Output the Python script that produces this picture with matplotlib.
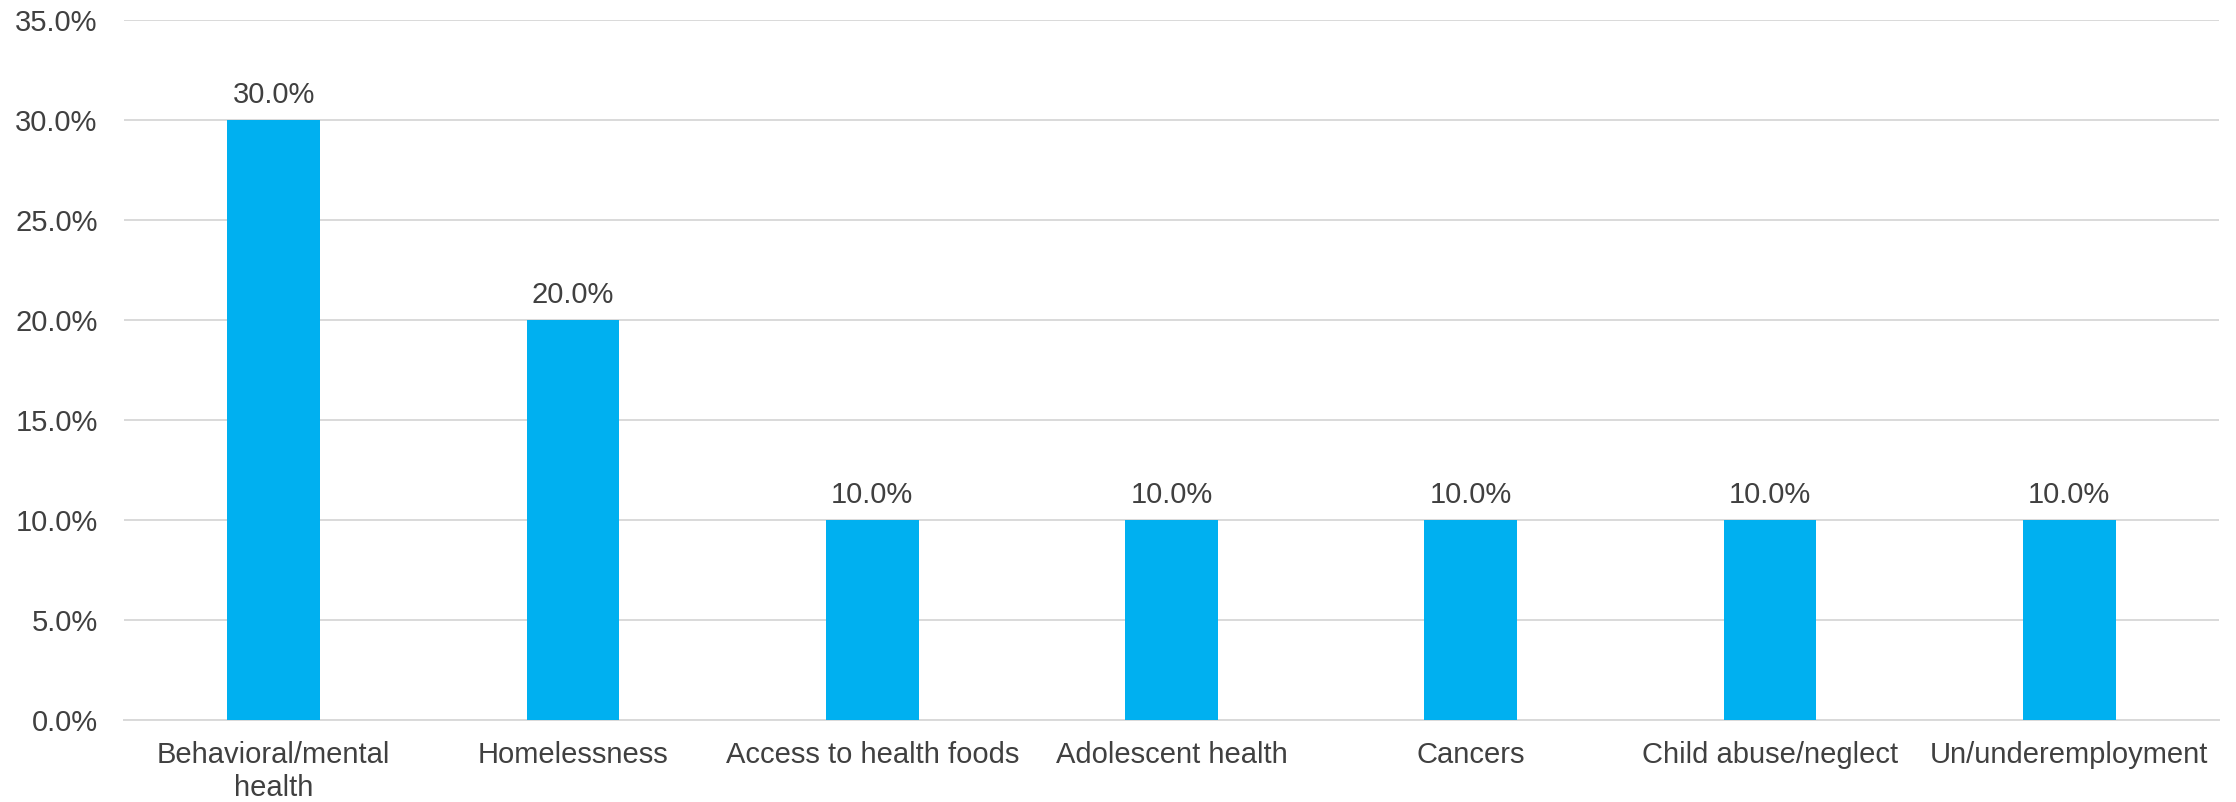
import numpy as np
import matplotlib
matplotlib.use("Agg")
import matplotlib.pyplot as plt
from matplotlib.ticker import FuncFormatter

categories = ["Behavioral/mental\nhealth", "Homelessness", "Access to health foods",
              "Adolescent health", "Cancers", "Child abuse/neglect", "Un/underemployment"]
values = [30.0, 20.0, 10.0, 10.0, 10.0, 10.0, 10.0]
y_ticks = [0, 5, 10, 15, 20, 25, 30, 35]

plt.rcParams['font.family'] = ['Liberation Sans', 'DejaVu Sans']

text_color = '#404040'
grid_color = '#D9D9D9'
bar_color = '#00B0F0'
fsize = 21

fig = plt.figure(figsize=(22.36, 8.02), dpi=100)
ax = fig.add_axes([0.0555, 0.1022, 0.9369, 0.8729])

x = np.arange(len(categories))
bars = ax.bar(x, values, width=0.31, color=bar_color, zorder=3)

ax.set_xlim(-0.5, len(categories) - 0.5)
ax.set_ylim(0, 35)
ax.set_yticks(y_ticks)
ax.yaxis.set_major_formatter(FuncFormatter(lambda v, p: '%.1f%%' % v))
ax.set_xticks(x)
ax.set_xticklabels(categories, linespacing=1.25)

ax.grid(axis='y', color=grid_color, linewidth=1.4, zorder=0)
for s in ['top', 'right', 'left']:
    ax.spines[s].set_visible(False)
ax.spines['bottom'].set_color(grid_color)
ax.spines['bottom'].set_linewidth(1.4)

ax.tick_params(axis='y', length=0, pad=19, labelsize=fsize, labelcolor=text_color)
ax.tick_params(axis='x', length=0, pad=15, labelsize=fsize, labelcolor=text_color)

ax.bar_label(bars, labels=['%.1f%%' % v for v in values], padding=8,
             fontsize=fsize, color=text_color)

fig.savefig('out.png', dpi=100)
